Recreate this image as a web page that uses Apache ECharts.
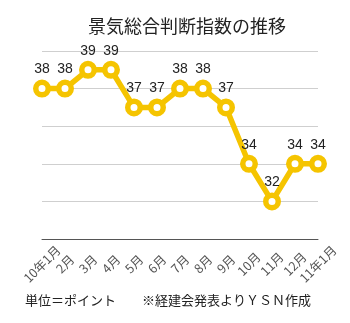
<!DOCTYPE html>
<html><head><meta charset="utf-8">
<script src="https://cdn.jsdelivr.net/npm/echarts@6/dist/echarts.min.js"></script>
<style>html,body{margin:0;padding:0;background:#fff}#c{width:350px;height:323px}</style>
</head><body><div id="c"></div>
<script>
const categories = ['10年1月','2月','3月','4月','5月','6月','7月','8月','9月','10月','11月','12月','11年1月'];
const values = [38,38,39,39,37,37,38,38,37,34,32,34,34];
const titleText = '景気総合判断指数の推移';
const unitText = '単位＝ポイント';
const sourceText = '※経建会発表よりＹＳＮ作成';
const chart = echarts.init(document.getElementById('c'));
chart.setOption({
  animation:false,
  title:{text:titleText,left:182,top:12,textAlign:'center',textStyle:{fontSize:18,fontWeight:'normal',color:'#222',fontFamily:'Noto Sans CJK JP'}},
  graphic:[
    {type:'text',left:25,top:294,style:{text:unitText,fontSize:13,fill:'#222',fontFamily:'Noto Sans CJK JP'}},
    {type:'text',left:142,top:294,style:{text:sourceText,fontSize:13,fill:'#222',fontFamily:'Noto Sans CJK JP'}}
  ],
  grid:{left:42,right:32,top:51,bottom:84},
  xAxis:{type:'category',data:categories,boundaryGap:false,
    axisLine:{lineStyle:{color:'#555',width:1}},axisTick:{show:false},
    axisLabel:{rotate:45,fontSize:12.5,color:'#555',interval:0,margin:25,align:'center',verticalAlign:'middle',fontFamily:'Noto Sans CJK JP'}},
  yAxis:{type:'value',min:30,max:40,interval:2,axisLabel:{show:false},axisLine:{show:false},axisTick:{show:false},
    splitLine:{lineStyle:{color:'#cfcfcf',width:1}}},
  series:[{type:'line',data:values,symbol:'circle',symbolSize:12.5,
    lineStyle:{color:'#F5C400',width:5.5},
    itemStyle:{color:'#fff',borderColor:'#F5C400',borderWidth:5.5},
    label:{show:true,position:'top',distance:3,fontSize:14,color:'#222',fontFamily:'Liberation Sans'}}]
});
</script></body></html>
